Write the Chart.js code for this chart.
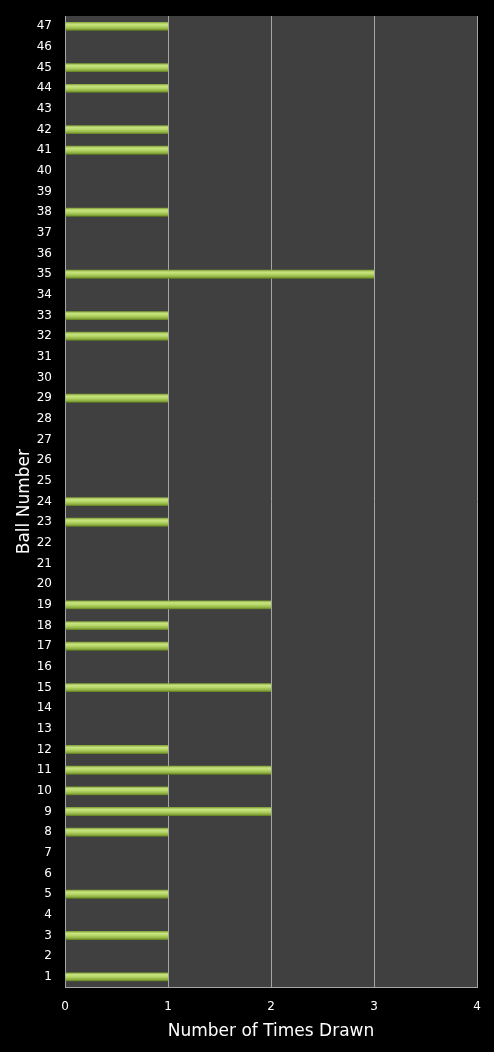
<!DOCTYPE html>
<html><head><meta charset="utf-8">
<script src="https://cdn.jsdelivr.net/npm/chart.js@4.4.0/dist/chart.umd.min.js"></script>
<style>html,body{margin:0;padding:0;background:#000;}#wrap{width:494px;height:1052px;}</style>
</head><body><div id="wrap"><canvas id="c"></canvas></div>
<script>
const ballNumbers = ["1","2","3","4","5","6","7","8","9","10","11","12","13","14","15","16","17","18","19","20","21","22","23","24","25","26","27","28","29","30","31","32","33","34","35","36","37","38","39","40","41","42","43","44","45","46","47"];
const timesDrawn = [1,0,1,0,1,0,0,1,2,1,2,1,0,0,2,0,1,1,2,0,0,0,1,1,0,0,0,0,1,0,0,1,1,0,3,0,0,1,0,0,1,1,0,1,1,0,1];
const xTicks = [0,1,2,3,4];
const FONT = "'DejaVu Sans', Verdana, sans-serif";

const plotBg = {
  id:'plotBg',
  beforeDraw(chart){
    const {ctx, chartArea:a} = chart;
    ctx.save();
    ctx.fillStyle='#000';
    ctx.fillRect(0,0,chart.width,chart.height);
    ctx.fillStyle='#404040';
    ctx.fillRect(a.left,a.top,a.right-a.left,a.bottom-a.top);
    ctx.restore();
  }
};

function barFill(c){
  const chart=c.chart;
  if(!chart.chartArea || !chart.scales.y) return '#a8c85a';
  const y = chart.scales.y.getPixelForValue(c.dataIndex);
  const h = 4.5;
  const g = chart.ctx.createLinearGradient(0,y-h,0,y+h);
  g.addColorStop(0,'#7a9a30');
  g.addColorStop(0.25,'#c8e480');
  g.addColorStop(0.5,'#b6d668');
  g.addColorStop(0.8,'#8cae3e');
  g.addColorStop(1,'#5a7420');
  return g;
}

new Chart(document.getElementById('c'),{
  type:'bar',
  data:{labels:ballNumbers,datasets:[{data:timesDrawn,backgroundColor:barFill,borderWidth:0,barPercentage:0.43,categoryPercentage:1}]},
  options:{
    indexAxis:'y',
    responsive:true,maintainAspectRatio:false,animation:false,
    layout:{padding:{top:16,right:17,left:14,bottom:10}},
    plugins:{legend:{display:false},tooltip:{enabled:false}},
    scales:{
      x:{min:0,max:4,
        afterBuildTicks(s){s.ticks=xTicks.map(v=>({value:v}));},
        grid:{color:'#a6a6a6',lineWidth:1,drawTicks:false},
        border:{color:'#a6a6a6'},
        ticks:{color:'#fff',font:{family:FONT,size:12},padding:12},
        title:{display:true,text:'Number of Times Drawn',color:'#fff',font:{family:FONT,size:17},padding:{top:-4,bottom:0}}
      },
      y:{reverse:true,
        afterFit(s){s.width=51;s.paddingTop=0;s.paddingBottom=0;},
        grid:{display:false,drawTicks:false},
        border:{color:'#a6a6a6'},
        ticks:{color:'#fff',font:{family:FONT,size:12},padding:13,autoSkip:false},
        title:{display:true,text:'Ball Number',color:'#fff',font:{family:FONT,size:17},padding:{top:0,bottom:0}}
      }
    }
  },
  plugins:[plotBg]
});
</script></body></html>
